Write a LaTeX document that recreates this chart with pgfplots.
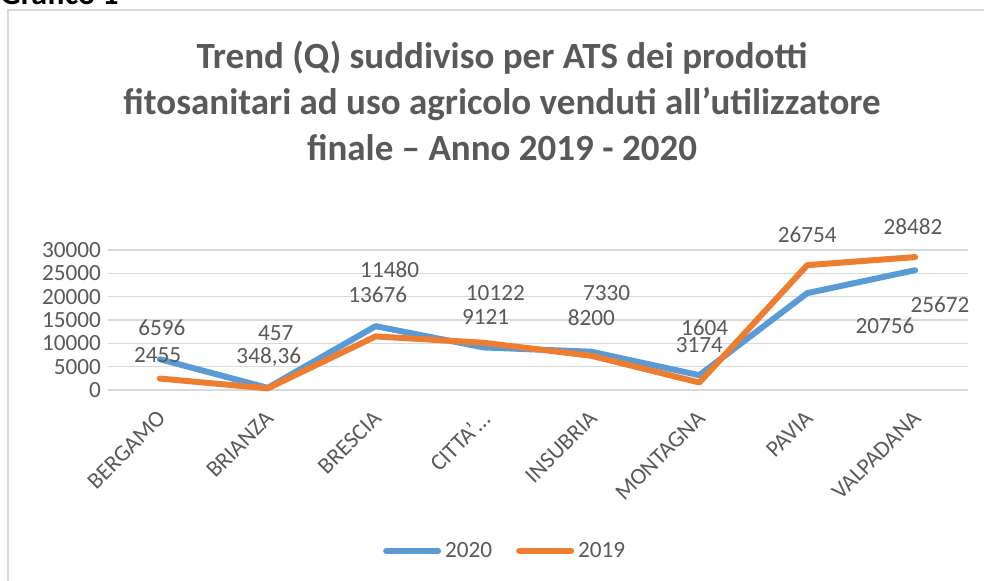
\documentclass[border=0pt]{standalone}
\usepackage{pgfplots}
\pgfplotsset{compat=1.18}
\usepackage{fontspec}
\setmainfont{Carlito}
\definecolor{serie2020}{HTML}{5B9BD5}
\definecolor{serie2019}{HTML}{ED7D31}
\definecolor{testo}{HTML}{595959}
\definecolor{griglia}{HTML}{D9D9D9}
\begin{document}
\begin{tikzpicture}
\path[use as bounding box] (0,0) rectangle (492pt,-290.5pt);
\clip (0,0) rectangle (492pt,-290.5pt);
\draw[griglia, line width=0.7pt] (4pt,-5pt) rectangle (500pt,-300pt);
\node[anchor=base west, inner sep=0pt, font=\bfseries\fontsize{16}{18}\selectfont] at (0pt,-2.5pt) {Grafico 1};
\node[align=center, text=testo, font=\bfseries\fontsize{18.5}{23}\selectfont] at (251pt,-50.5pt)
  {Trend (Q) suddiviso per ATS dei prodotti\\fitosanitari ad uso agricolo venduti all’utilizzatore\\finale – Anno 2019 - 2020};
\begin{axis}[
    at={(54pt,-195pt)}, anchor=south west,
    scale only axis, width=430pt, height=70pt,
    xmin=-0.48, xmax=7.49, ymin=0, ymax=30000,
    axis line style={draw=none},
    ymajorgrids, grid style={griglia, line width=0.6pt},
    major tick length=0pt,
    ytick={0,5000,...,30000},
    scaled y ticks=false,
    xtick={0,...,7},
    xticklabels={BERGAMO,BRIANZA,BRESCIA,CITTA’…,INSUBRIA,MONTAGNA,PAVIA,VALPADANA},
    xticklabel style={rotate=45, anchor=north east, xshift=-4.6pt, yshift=-2pt},
    ticklabel style={text=testo, font=\fontsize{11.6}{13}\selectfont},
    /pgf/number format/1000 sep={},
    /pgf/number format/assume math mode=true,
    clip=false,
    legend style={at={(0.463,-1.15)}, anchor=center, draw=none, fill=none,
      legend columns=2, text=testo, font=\fontsize{11.6}{13}\selectfont,
      /tikz/every even column/.append style={column sep=10pt}},
    legend image code/.code={\draw[#1, line cap=round] (0pt,0pt) -- (26pt,0pt);},
    every axis plot/.append style={line width=3pt, line join=round, line cap=round},
]
\addplot[serie2020] coordinates {
(0,6596) (1,457) (2,13676) (3,9121) (4,8200) (5,3174) (6,20756) (7,25672)
};
\addplot[serie2019] coordinates {
(0,2455) (1,348.36) (2,11480) (3,10122) (4,7330) (5,1604) (6,26754) (7,28482)
};
\legend{2020,2019}
\begin{scope}[every node/.style={text=testo, font=\fontsize{11.6}{13}\selectfont}]
\node at (axis cs:0.02,13286) {6596};
\node at (axis cs:-0.02,7500) {2455};
\node at (axis cs:1.075,12214) {457};
\node at (axis cs:1.01,7071) {348,36};
\node at (axis cs:2.13,25714) {11480};
\node at (axis cs:2.02,20357) {13676};
\node at (axis cs:3.11,20786) {10122};
\node at (axis cs:3.02,15643) {9121};
\node at (axis cs:4.14,20786) {7330};
\node at (axis cs:4.0,15429) {8200};
\node at (axis cs:5.05,13286) {1604};
\node at (axis cs:5.0,9643) {3174};
\node at (axis cs:6.0,33214) {26754};
\node at (axis cs:6.98,34929) {28482};
\node at (axis cs:7.23,18214) {25672};
\node at (axis cs:6.72,13714) {20756};
\end{scope}
\end{axis}
\end{tikzpicture}
\end{document}
